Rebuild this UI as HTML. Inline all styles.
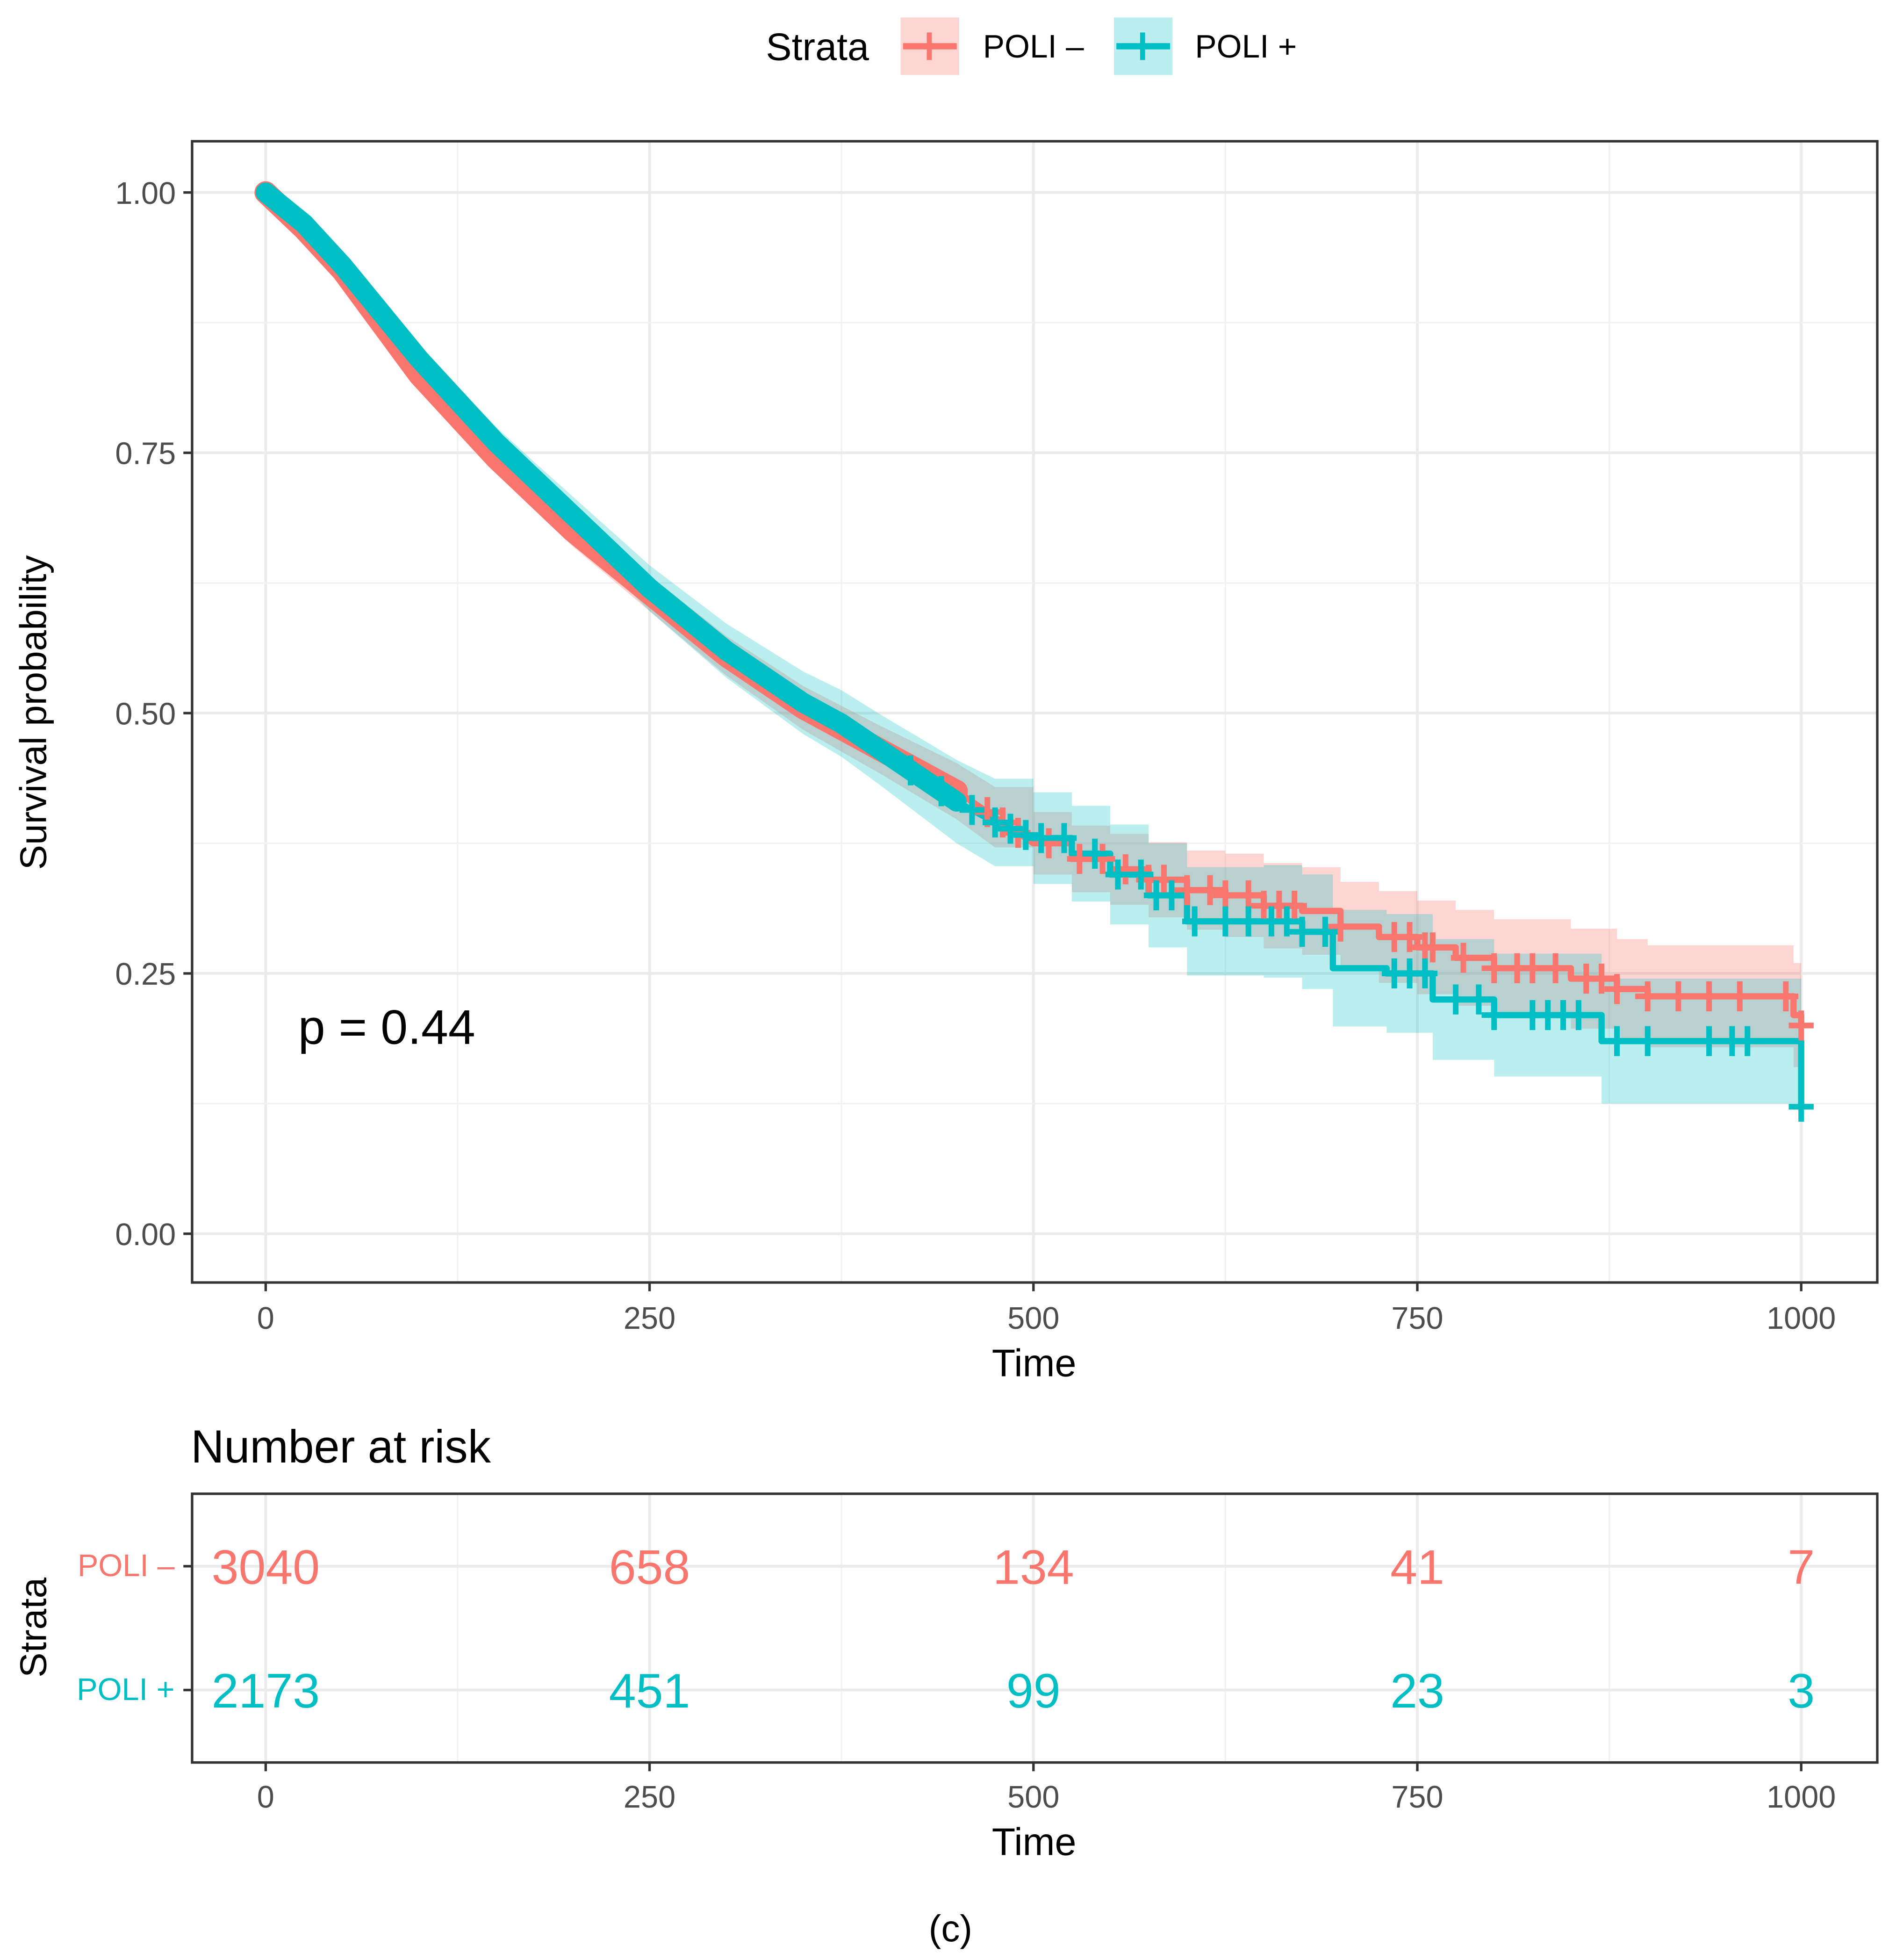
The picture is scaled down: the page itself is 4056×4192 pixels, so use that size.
<!DOCTYPE html>
<html><head><meta charset="utf-8"><style>
html,body{margin:0;padding:0;background:#fff}
svg{display:block}
text{font-family:"Liberation Sans",sans-serif}
</style></head><body>
<svg id="chart" width="4056" height="4192" viewBox="0 0 1520 1568" preserveAspectRatio="none" xmlns="http://www.w3.org/2000/svg">
<rect x="0" y="0" width="1520" height="1568" fill="#fff"/>
<g id="legend">
  <text x="614" y="48" font-size="31" fill="#000">Strata</text>
  <g>
    <rect x="722" y="14" width="47" height="46" fill="rgba(248,118,109,0.3)"/>
    <line x1="724" y1="37" x2="767" y2="37" stroke="#F8766D" stroke-width="5"/>
    <line x1="745" y1="26" x2="745" y2="48" stroke="#F8766D" stroke-width="4"/>
    <text x="788" y="46" font-size="26" fill="#000">POLI –</text>
  </g>
  <g>
    <rect x="893" y="14" width="47" height="46" fill="rgba(0,191,196,0.27)"/>
    <line x1="895" y1="37" x2="938" y2="37" stroke="#00BFC4" stroke-width="5"/>
    <line x1="916" y1="26" x2="916" y2="48" stroke="#00BFC4" stroke-width="4"/>
    <text x="958" y="46" font-size="26" fill="#000">POLI +</text>
  </g>
</g>
<g id="main"></g>
<g id="risk"></g>
<text x="762" y="1553" font-size="30" text-anchor="middle" font-family="Liberation Serif, serif">(c)</text>
</svg>
<script>
const xTicks = [0, 250, 500, 750, 1000];
const yTicks = [0, 0.25, 0.5, 0.75, 1.0];
const yTickLabels = ["0.00", "0.25", "0.50", "0.75", "1.00"];
const strataNames = ["POLI –", "POLI +"];
const minusTimes = [0,25,50,75,100,125,150,175,200,225,250,275,300,325,350,375,400,425,450,475,500,525,550,575,600,625,650,675,700,725,750,775,800,850,880,900,995,1000];
const minusSurv = [1.00,0.965,0.925,0.875,0.825,0.785,0.745,0.71,0.675,0.645,0.615,0.585,0.555,0.53,0.505,0.485,0.465,0.445,0.425,0.40,0.375,0.36,0.35,0.34,0.33,0.325,0.315,0.31,0.295,0.285,0.275,0.265,0.255,0.245,0.235,0.228,0.21,0.20];
const minusCI = [0,0.004,0.007,0.009,0.011,0.012,0.013,0.014,0.015,0.016,0.017,0.018,0.019,0.02,0.021,0.022,0.023,0.025,0.027,0.029,0.03,0.032,0.034,0.036,0.038,0.04,0.041,0.042,0.043,0.044,0.045,0.046,0.047,0.048,0.048,0.049,0.05,0.05];
const plusTimes = [0,25,50,75,100,125,150,175,200,225,250,275,300,325,350,375,400,425,450,475,500,525,550,575,600,650,675,695,730,760,800,870,1000];
const plusSurv = [1.00,0.97,0.93,0.885,0.84,0.80,0.76,0.725,0.69,0.655,0.62,0.59,0.56,0.535,0.51,0.49,0.465,0.44,0.415,0.395,0.38,0.365,0.345,0.325,0.30,0.30,0.29,0.255,0.25,0.225,0.21,0.185,0.122];
const plusCI = [0,0.005,0.008,0.01,0.012,0.013,0.015,0.016,0.018,0.02,0.022,0.024,0.026,0.028,0.03,0.032,0.034,0.037,0.04,0.042,0.044,0.046,0.048,0.05,0.052,0.054,0.055,0.056,0.057,0.058,0.059,0.06,0.06];
const minusCensor = [470,480,490,510,530,545,560,575,585,600,615,625,640,650,660,670,700,735,745,755,760,780,800,815,825,840,860,870,880,900,920,940,960,990,1000];
const plusCensor = [420,440,460,475,485,495,505,520,540,555,570,580,590,605,625,640,655,665,675,690,735,745,755,775,790,800,825,835,845,855,880,900,940,955,965,1000];
const riskMinus = ["3040","658","134","41","7"];
const riskPlus = ["2173","451","99","23","3"];
const pValueLabel = "p = 0.44";

const NS = "http://www.w3.org/2000/svg";
const P = {l:154, r:1505, t:113, b:1026};
const xs = t => 213 + (t/1000)*(1444-213);
const ys = s => 987 - s*(987-154);
const R = {t:1195, b:1410};
const rowY = [1253, 1352];
function mk(tag, attrs, parent){const e=document.createElementNS(NS,tag);for(const k in attrs)e.setAttribute(k,attrs[k]);parent.appendChild(e);return e;}
const main = document.getElementById('main');
const risk = document.getElementById('risk');

function grid(parent, top, bottom){
  for(let i=0;i<xTicks.length;i++){
    const g=mk('line',{x1:xs(xTicks[i]),x2:xs(xTicks[i]),y1:top,y2:bottom,stroke:'#ebebeb','stroke-width':2.2},parent);
    
    
    if(i<xTicks.length-1){const m=(xTicks[i]+xTicks[i+1])/2;const g2=mk('line',{x1:xs(m),x2:xs(m),y1:top,y2:bottom,stroke:'#f2f2f2','stroke-width':1.2},parent);
      
      }
  }
}
mk('rect',{x:P.l,y:P.t,width:P.r-P.l,height:P.b-P.t,fill:'#fff'},main);
grid(main,P.t,P.b);
for(let i=0;i<yTicks.length;i++){
  const y=ys(yTicks[i]);
  const g=mk('line',{x1:P.l,x2:P.r,y1:y,y2:y,stroke:'#ebebeb','stroke-width':2.2},main);
  
  
  if(i<yTicks.length-1){const m=ys((yTicks[i]+yTicks[i+1])/2);const g2=mk('line',{x1:P.l,x2:P.r,y1:m,y2:m,stroke:'#f2f2f2','stroke-width':1.2},main);
    
    }
}
function bandPath(times,surv,ci){
  let up='',lo=[];
  for(let i=0;i<times.length;i++){
    const x=xs(times[i]);const u=ys(Math.min(1,surv[i]+ci[i]));const l=ys(Math.max(0,surv[i]-ci[i]));
    if(i===0){up+='M'+x+','+u;}else{
      if(times[i]>=500){up+=' H'+x+' V'+u;}else{up+=' L'+x+','+u;}
    }
    lo.push([x,l,times[i]]);
  }
  let p=up;
  for(let i=lo.length-1;i>=0;i--){
    if(i===lo.length-1){p+=' L'+lo[i][0]+','+lo[i][1];}
    else if(lo[i+1][2]>=500){p+=' V'+lo[i][1]+' H'+lo[i][0];}
    else{p+=' L'+lo[i][0]+','+lo[i][1];}
  }
  return p+' Z';
}
function linePath(times,surv,maxT){
  let d='';
  for(let i=0;i<times.length;i++){
    if(times[i]>maxT)break;
    const x=xs(times[i]),y=ys(surv[i]);
    if(i===0)d='M'+x+','+y;
    else if(times[i]>500)d+=' H'+x+' V'+y;
    else d+=' L'+x+','+y;
  }
  return d;
}
function survAt(times,surv,t){let s=surv[0];for(let i=0;i<times.length;i++){if(times[i]<=t){s=surv[i];}}
  for(let i=1;i<times.length;i++){if(times[i]>t&&times[i]<=500&&times[i-1]<=t){return surv[i-1]+(surv[i]-surv[i-1])*(t-times[i-1])/(times[i]-times[i-1]);}}
  return s;}
const series=[
  {name:'poli-minus',times:minusTimes,surv:minusSurv,ci:minusCI,cens:minusCensor,col:'#F8766D',fill:'rgba(248,118,109,0.3)'},
  {name:'poli-plus',times:plusTimes,surv:plusSurv,ci:plusCI,cens:plusCensor,col:'#00BFC4',fill:'rgba(0,191,196,0.27)'}
];
series.forEach(s=>{
  const b=mk('path',{d:bandPath(s.times,s.surv,s.ci),fill:s.fill},main);
  
  
});
series.forEach(s=>{
  const l=mk('path',{d:linePath(s.times,s.surv,2000),fill:'none',stroke:s.col,'stroke-width':5,'stroke-linejoin':'round'},main);
  
  
  const th=mk('path',{d:linePath(s.times,s.surv,450),fill:'none',stroke:s.col,'stroke-width':s.name==='poli-plus'?16:18,'stroke-linecap':'round','stroke-linejoin':'round'},main);
  
  
});
series.forEach(s=>{
  s.cens.forEach(t=>{
    let v=survAt(s.times,s.surv,t);
    if(s.name==='poli-plus'&&t>=1000)v=s.surv[s.surv.length-1];
    const x=xs(t),y=ys(v);
    const c=mk('path',{d:'M'+(x-10)+','+y+' H'+(x+10)+' M'+x+','+(y-12)+' V'+(y+12),stroke:s.col,'stroke-width':4.5,fill:'none'},main);
    
    
  });
});
mk('rect',{x:P.l,y:P.t,width:P.r-P.l,height:P.b-P.t,fill:'none',stroke:'#333','stroke-width':2},main);
yTicks.forEach((v,i)=>{
  const y=ys(v);
  mk('line',{x1:P.l-7,x2:P.l,y1:y,y2:y,stroke:'#333','stroke-width':2},main);
  const t=mk('text',{x:P.l-13,y:y+9,'font-size':25,'text-anchor':'end',fill:'#4d4d4d'},main);
  t.textContent=yTickLabels[i];
  
  
});
function xAxis(parent,bottom,labelY,titleY){
  xTicks.forEach(v=>{
    const x=xs(v);
    mk('line',{x1:x,x2:x,y1:bottom,y2:bottom+7,stroke:'#333','stroke-width':2},parent);
    const t=mk('text',{x:x,y:labelY,'font-size':25,'text-anchor':'middle',fill:'#4d4d4d'},parent);
    t.textContent=String(v);
    
    
  });
  const tt=mk('text',{x:829,y:titleY,'font-size':31,'text-anchor':'middle',fill:'#000'},parent);
  tt.textContent='Time';
  
  
}
xAxis(main,P.b,1063,1101);
const yt=mk('text',{x:0,y:0,'font-size':30,'text-anchor':'middle',fill:'#000',transform:'translate(37,570) rotate(-90)'},main);
yt.textContent='Survival probability';


const pv=mk('text',{x:239,y:835,'font-size':39,fill:'#000'},main);
pv.textContent=pValueLabel;



const rt=mk('text',{x:153,y:1170,'font-size':37,fill:'#000'},risk);
rt.textContent='Number at risk';


mk('rect',{x:P.l,y:R.t,width:P.r-P.l,height:R.b-R.t,fill:'#fff'},risk);
grid(risk,R.t,R.b);
rowY.forEach(y=>{const g=mk('line',{x1:P.l,x2:P.r,y1:y,y2:y,stroke:'#ebebeb','stroke-width':2.2},risk);
  
  });
[riskMinus,riskPlus].forEach((row,ri)=>{
  row.forEach((v,i)=>{
    const t=mk('text',{x:xs(xTicks[i]),y:rowY[ri]+14,'font-size':39,'text-anchor':'middle',fill:series[ri].col},risk);
    t.textContent=v;
    
    
  });
  mk('line',{x1:P.l-7,x2:P.l,y1:rowY[ri],y2:rowY[ri],stroke:'#333','stroke-width':2},risk);
  const lab=mk('text',{x:P.l-14,y:rowY[ri]+8,'font-size':25,'text-anchor':'end',fill:series[ri].col},risk);
  lab.textContent=strataNames[ri];
  
  
});
mk('rect',{x:P.l,y:R.t,width:P.r-P.l,height:R.b-R.t,fill:'none',stroke:'#333','stroke-width':2},risk);
xAxis(risk,R.b,1446,1484);
const st=mk('text',{x:0,y:0,'font-size':30,'text-anchor':'middle',fill:'#000',transform:'translate(37,1302) rotate(-90)'},risk);
st.textContent='Strata';


</script>
</body></html>
